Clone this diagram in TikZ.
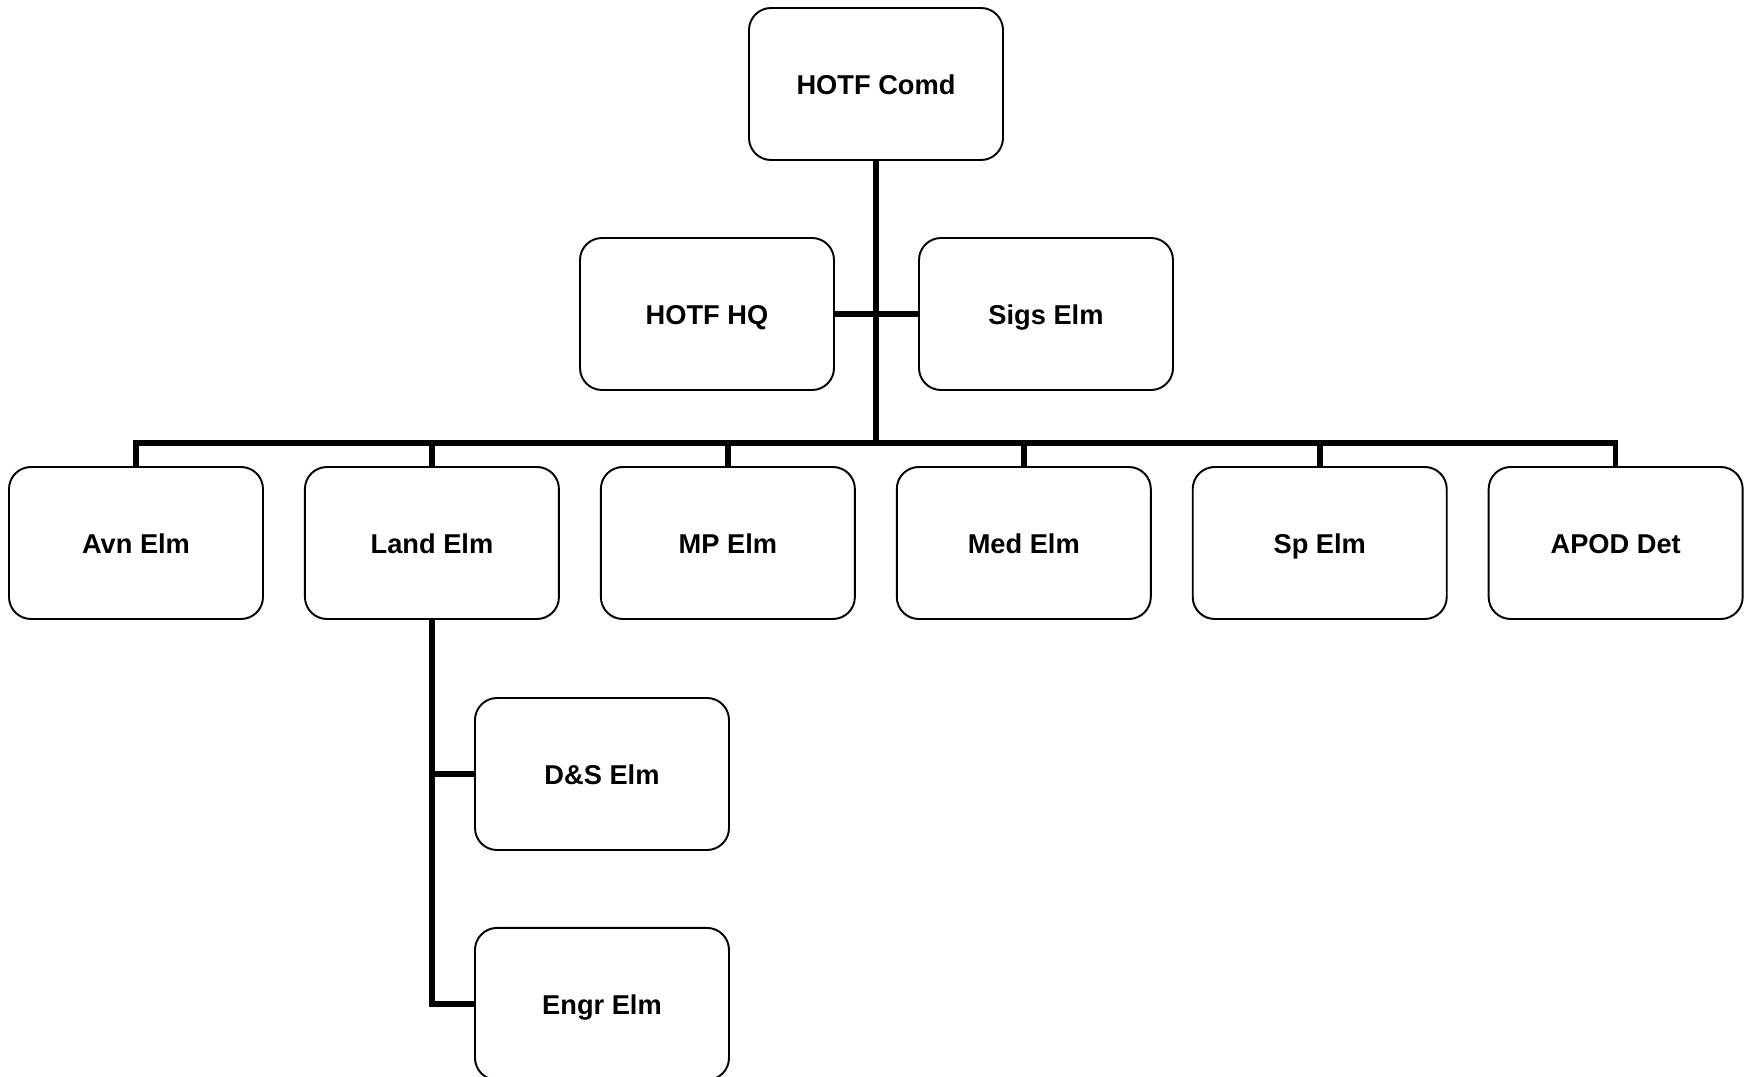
\documentclass[tikz,border=0pt]{standalone}
\usepackage{fontspec}
\setmainfont{Liberation Sans}
\usetikzlibrary{positioning}

\begin{document}
\begin{tikzpicture}[
    node distance=1.52cm and 0.80cm,
    unit/.style={rectangle, rounded corners=0.44cm, draw, line width=1.1pt, fill=white,
        minimum width=5.08cm, minimum height=3.04cm, align=center,
        text height=14pt, text depth=2.3pt,
        font=\fontsize{15.5}{19}\selectfont\bfseries},
    link/.style={line width=3.2pt}
]
    \useasboundingbox (0,0) rectangle (34.92,-21.54);

    \coordinate (bus) at (17.52,-8.86);

    \node[unit] (comd) at (17.52,-1.68) {HOTF Comd};
    \node[unit] (hq) at (14.14,-6.28) {HOTF HQ};
    \node[unit] (sigs) at (20.92,-6.28) {Sigs Elm};

    \node[unit] (avn) at (2.72,-10.86) {Avn Elm};
    \node[unit, right=of avn] (land) {Land Elm};
    \node[unit, right=of land] (mp) {MP Elm};
    \node[unit, right=of mp] (med) {Med Elm};
    \node[unit, right=of med] (sp) {Sp Elm};
    \node[unit, right=of sp] (apod) {APOD Det};

    \node[unit] (ds) at (12.04,-15.48) {D\&S Elm};
    \node[unit, below=of ds] (engr) {Engr Elm};

    \draw[link] (comd.south) -- (bus);
    \draw[link] (hq.east) -- (sigs.west);
    \draw[link, line join=miter] (avn.north) -- (avn.north |- bus) -- (apod.north |- bus) -- (apod.north);
    \foreach \n in {land,mp,med,sp}
        \draw[link] (\n.north) -- (\n.north |- bus);

    \draw[link, line join=miter] (land.south) |- (engr.west);
    \draw[link] (land.south |- ds.west) -- (ds.west);
\end{tikzpicture}
\end{document}
